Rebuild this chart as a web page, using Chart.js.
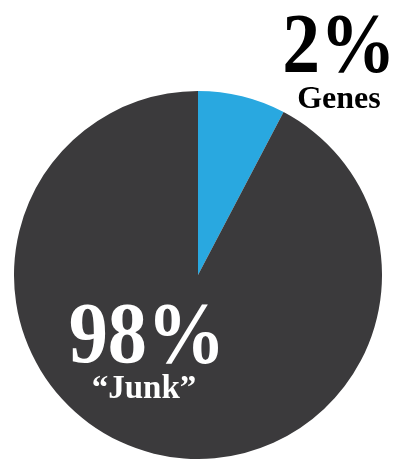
<!DOCTYPE html>
<html>
<head>
<title>Genes vs junk</title>
<script src="https://cdn.jsdelivr.net/npm/chart.js@4.4.0/dist/chart.umd.min.js"></script>
<style>
    body {
        margin: 0;
        background-color: #ffffff;
    }
    #wrap {
        position: relative;
        width: 395px;
        height: 460px;
        overflow: hidden;
    }
    #pieBox {
        position: absolute;
        left: 14px;
        top: 91px;
        width: 368px;
        height: 368px;
    }
    .lbl {
        position: absolute;
        width: 200px;
        text-align: center;
        font-family: "Liberation Serif", "DejaVu Serif", serif;
        font-weight: bold;
        line-height: 1;
        white-space: nowrap;
    }
</style>
</head>
<body>
<div id="wrap">
    <div id="pieBox">
        <canvas id="myPie" width="368" height="368"></canvas>
    </div>
    <div class="lbl" id="pctGenes" style="left:239px; top:2px; font-size:84px; color:#000; transform:scaleX(0.9);"></div>
    <div class="lbl" id="nameGenes" style="left:239px; top:81px; font-size:32px; color:#000;"></div>
    <div class="lbl" id="pctJunk" style="left:47px; top:289px; font-size:87px; color:#fff; transform:scaleX(0.9);"></div>
    <div class="lbl" id="nameJunk" style="left:44px; top:371px; font-size:33px; color:#fff;"></div>
</div>

<script>

// slice sizes as drawn in the picture, labels as printed on it
var categories = ['Genes', '\u201cJunk\u201d'];
var sliceValues = [7.7, 92.3];
var printedPct = ['2%', '98%'];
var sliceColors = ['#29a8e0', '#3b3a3c'];

document.getElementById('pctGenes').textContent = printedPct[0];
document.getElementById('nameGenes').textContent = categories[0];
document.getElementById('pctJunk').textContent = printedPct[1];
document.getElementById('nameJunk').textContent = categories[1];

var ctx = document.getElementById('myPie').getContext('2d');

var pie = new Chart(ctx, {
    type: 'pie',
    data: {
        labels: categories,
        datasets: [{
            data: sliceValues,
            backgroundColor: sliceColors,
            borderWidth: 0
        }]
    },
    options: {
        responsive: false,
        animation: false,
        layout: { padding: 0 },
        plugins: {
            legend: { display: false },
            tooltip: { enabled: false }
        }
    }
});

</script>
</body>
</html>
